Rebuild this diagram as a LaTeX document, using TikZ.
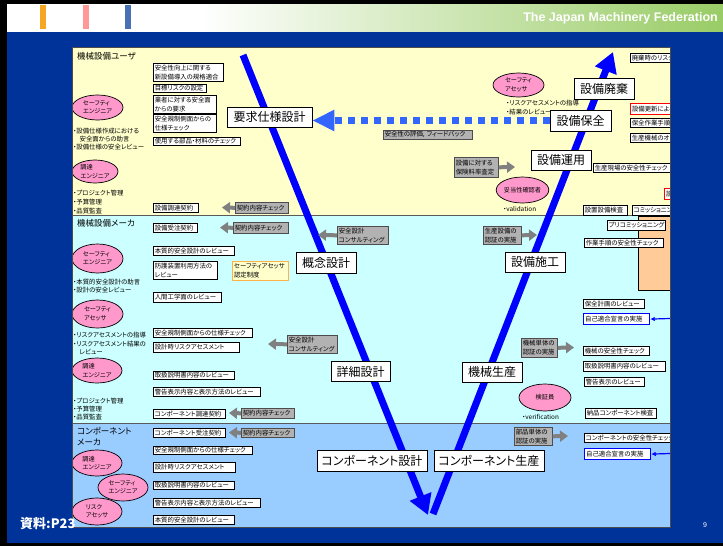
\documentclass[tikz,border=0pt]{standalone}
\usepackage{fontspec}
\setmainfont{Noto Sans CJK JP}[RawFeature=+palt]
\newfontfamily\hdrfont{Liberation Sans}
\usetikzlibrary{arrows.meta,shapes.geometric}

\definecolor{slideblue}{HTML}{003399}
\definecolor{hdrgreen}{HTML}{99CC66}
\definecolor{barorange}{HTML}{F5A623}
\definecolor{barpink}{HTML}{FF9999}
\definecolor{barblue}{HTML}{4A6FB5}
\definecolor{bandA}{HTML}{FFFFCC}
\definecolor{bandB}{HTML}{CCFFFF}
\definecolor{bandC}{HTML}{99CCFF}
\definecolor{vblue}{HTML}{0000FF}
\definecolor{fbblue}{HTML}{3366FF}
\definecolor{pinkfill}{HTML}{FF99CC}
\definecolor{graylab}{HTML}{B2B2B2}
\definecolor{grayarr}{HTML}{808080}
\definecolor{certfill}{HTML}{FFFFCC}
\definecolor{certedge}{HTML}{FFB347}
\definecolor{comfill}{HTML}{FFCC99}

\tikzset{
  sbox/.style={draw=black,fill=white,line width=0.6pt,inner xsep=1.5pt,inner ysep=0pt,
    align=left,font=\fontsize{6.4}{8.7}\selectfont},
  redbox/.style={sbox,draw=red,line width=1pt},
  bluebox/.style={sbox,draw=blue,line width=1.2pt},
  certbox/.style={sbox,draw=certedge,fill=certfill,line width=1pt},
  glab/.style={sbox,draw=gray!60!black,fill=graylab},
  stage/.style={draw=black,fill=white,line width=0.8pt,inner sep=1pt,
    font=\fontsize{12}{14}\selectfont},
  pinkell/.style={ellipse,draw=black,fill=pinkfill,line width=0.7pt,inner sep=0pt,
    align=left,font=\fontsize{6.2}{8.4}\selectfont},
  note/.style={anchor=west,inner sep=0pt,font=\fontsize{6.4}{7.5}\selectfont},
  bandtitle/.style={anchor=north west,inner sep=0pt,align=left,font=\fontsize{8.5}{11}\selectfont},
  sepline/.style={draw=gray!70!black,line width=1pt},
  garrow/.style={draw=grayarr,line width=4pt,-{Triangle[length=8pt,width=11pt]}},
  blarrow/.style={draw=blue,line width=1.2pt,-{Latex[length=4.5pt,width=4.5pt]}},
  vline/.style={draw=vblue,line width=7pt,-{Triangle[length=20pt,width=22pt]}},
  fbarrow/.style={draw=fbblue,line width=7pt,dash pattern=on 7pt off 6pt,
    -{Triangle[length=22pt,width=20pt]}},
}

% box from its corners: [style]{x1}{y1}{x2}{y2}{name}{text}
\newcommand\putbox[7][sbox]{%
  \pgfmathsetmacro\pbTw{#4-#2-3}%
  \pgfmathsetmacro\pbH{#5-#3}%
  \node[#1,anchor=north west,text width=\pbTw pt,minimum height=\pbH pt] (#6) at (#2,#3) {#7};}
% stage label: {cx}{cy}{w}{h}{name}{text}
\newcommand\putstage[6]{%
  \node[stage,minimum width=#3pt,minimum height=#4pt] (#5) at (#1,#2) {#6};}
% pink ellipse: {cx}{cy}{w}{h}{name}{text}
\newcommand\putell[6]{%
  \node[pinkell,minimum width=#3pt,minimum height=#4pt] (#5) at (#1,#2) {#6};}

\begin{document}
\begin{tikzpicture}[x=1pt,y=-1pt]
\useasboundingbox (0,0) rectangle (723,546);

% slide frame, header and background
\fill[black] (0,0) rectangle (723,546);
\fill[white] (7,4) rectangle (200,32);
\shade[left color=white,right color=hdrgreen] (199,4) rectangle (723,32);
\fill[slideblue] (7,32) rectangle (723,543);
\fill[barorange] (40,5) rectangle (46,29);
\fill[barpink] (83,5) rectangle (89,29);
\fill[barblue] (125,5) rectangle (131,29);
\node[anchor=east,text=white,inner sep=0pt,font=\hdrfont\bfseries\fontsize{12.5}{14}\selectfont]
  (hdr) at (718,18) {The Japan Machinery Federation};

\begin{scope}
\clip (72,47) rectangle (670,527);
% three bands
\fill[bandA] (72,47) rectangle (670,215);
\fill[bandB] (72,215) rectangle (670,423);
\fill[bandC] (72,423) rectangle (670,527);
\draw[sepline] (72,215) -- (670,215);
\draw[sepline] (72,423) -- (670,423);

% band titles
\node[bandtitle] (t1) at (77,52) {機械設備ユーザ};
\node[bandtitle] (t2) at (77,219) {機械設備メーカ};
\node[bandtitle] (t3) at (77,427) {コンポーネント\\メーカ};

% the V of the life cycle
\coordinate (vtop) at (243,55);
\coordinate (vbot) at (428,515);
\coordinate (rbot) at (433,514);
\coordinate (rtop) at (613,52);
\draw[vline] (vtop) -- (vbot);
\draw[vline] (rbot) -- (rtop);

% stage labels
\putstage{269.5}{117}{85}{20}{req}{要求仕様設計}
\putstage{604}{88.5}{60}{21}{haiki}{設備廃棄}
\putstage{580.5}{120.5}{61}{21}{hozen}{設備保全}
\putstage{561}{160}{60}{20}{unyo}{設備運用}
\putstage{326}{262.5}{60}{21}{gainen}{概念設計}
\putstage{535}{262}{60}{20}{sekou}{設備施工}
\putstage{360.5}{371.5}{59}{20}{shosai}{詳細設計}
\putstage{492}{372}{60}{20}{seisan}{機械生産}
\putstage{372}{460.5}{110}{21}{compD}{コンポーネント設計}
\putstage{489}{460.5}{110}{21}{compP}{コンポーネント生産}

% feedback from maintenance to requirement design
\draw[fbarrow] (hozen.west) -- (req.east |- hozen.west);
\putbox[glab]{383}{130}{472}{139}{fb}{安全性の評価, フィードバック}

% ---- machine user band ----
\putell{97.5}{107.5}{51}{25}{e1}{セーフティ\\エンジニア}
\node[note] (n1) at (73,131) {・設備仕様作成における};
\node[note] (n2) at (73,139) {　安全面からの助言};
\node[note] (n3) at (73,147) {・設備仕様の安全レビュー};
\putell{95}{171.5}{46}{23}{e2}{調達\\エンジニア}
\node[note] (n4) at (73,193) {・プロジェクト管理};
\node[note] (n5) at (73,202) {・予算管理};
\node[note] (n6) at (73,211) {・品質監査};

\putbox{153}{63}{223}{81}{u1}{安全性向上に関する\\新設備導入の規格適合}
\putbox{153}{84}{206}{92}{u2}{目標リスクの設定}
\putbox{153}{95}{216}{113}{u3}{業者に対する安全面\\からの要求}
\putbox{153}{114}{216}{132}{u4}{安全規制側面からの\\仕様チェック}
\putbox{153}{137}{240}{145}{u5}{使用する部品・材料のチェック}
\putbox{153}{203}{198}{212}{u6}{設備調達契約}
\putbox[glab]{235}{202}{288}{213}{g1}{契約内容チェック}
\coordinate (g1t) at (222,207.5);
\draw[garrow] (g1.west) -- (g1t);

\putell{518.5}{85}{51}{24}{e3}{セーフティ\\アセッサ}
\node[note] (n7) at (506,103) {・リスクアセスメントの指導};
\node[note] (n8) at (506,112) {・結果のレビュー};
\putbox[glab]{454}{157}{498}{177}{ins}{設備に対する\\保険料率査定}
\coordinate (inst) at (515,167);
\draw[garrow] (ins.east) -- (inst);
\putell{522.5}{190}{51}{26}{e4}{妥当性確認者}
\node[note] (n9) at (503,209) {・validation};

\putbox{630}{53}{700}{62}{r1}{廃棄時のリスクアセスメント}
\putbox[redbox]{630}{103}{700}{114}{r2}{設備更新によるリスク評価}
\putbox{630}{118}{700}{127}{r3}{保全作業手順の安全性チェック}
\putbox{630}{133}{700}{142}{r4}{生産機械のオーバーホール}
\putbox{593}{163}{700}{172}{r5}{生産現場の安全性チェック}
\putbox[redbox]{664}{188}{720}{199}{r6}{設備}
\putbox{583}{205}{627}{215}{r7}{設置設備検査}
\putbox{632}{205}{700}{215}{r8}{コミッショニング}

% ---- machine maker band ----
\fill[comfill,draw=black,line width=0.7pt] (638,216) rectangle (680,290);
\putbox{153}{223}{197}{232}{m1}{設備受注契約}
\putbox[glab]{233}{222}{288}{233}{g2}{契約内容チェック}
\coordinate (g2t) at (220,227.5);
\draw[garrow] (g2.west) -- (g2t);

\putell{97.5}{258.5}{51}{29}{e5}{セーフティ\\エンジニア}
\node[note] (n10) at (73,282) {・本質的安全設計の助言};
\node[note] (n11) at (73,290) {・設計の安全レビュー};
\putell{97.5}{314}{51}{28}{e6}{セーフティ\\アセッサ}
\node[note] (n12) at (73,335) {・リスクアセスメントの指導};
\node[note] (n13) at (73,344) {・リスクアセスメント結果の};
\node[note] (n14) at (73,352) {　レビュー};
\putell{97}{370.5}{50}{25}{e7}{調達\\エンジニア}
\node[note] (n15) at (73,401) {・プロジェクト管理};
\node[note] (n16) at (73,409) {・予算管理};
\node[note] (n17) at (73,417) {・品質監査};

\putbox{153}{246}{234}{255}{m2}{本質的安全設計のレビュー}
\putbox{153}{261}{217}{279}{m3}{防護装置利用方法の\\レビュー}
\putbox[certbox]{232}{261}{288}{280}{cert}{セーフティアセッサ\\認定制度}
\putbox{153}{292}{221}{302}{m4}{人間工学面のレビュー}
\putbox{153}{328}{252}{337}{m5}{安全規制側面からの仕様チェック}
\putbox{153}{342}{239}{352}{m6}{設計時リスクアセスメント}
\putbox{153}{371}{234}{379}{m7}{取扱説明書内容のレビュー}
\putbox{153}{387}{260}{396}{m8}{警告表示内容と表示方法のレビュー}
\putbox{153}{409}{225}{418}{m9}{コンポーネント調達契約}
\putbox[glab]{241}{408}{294}{418}{g3}{契約内容チェック}
\coordinate (g3t) at (229,413);
\draw[garrow] (g3.west) -- (g3t);

\putbox[glab]{337}{226}{388}{244}{cs1}{安全設計\\コンサルティング}
\coordinate (cs1t) at (318,235);
\draw[garrow] (cs1.west) -- (cs1t);
\putbox[glab]{287}{335}{337}{353}{cs2}{安全設計\\コンサルティング}
\coordinate (cs2t) at (268,344);
\draw[garrow] (cs2.west) -- (cs2t);

\putbox[glab]{483}{226}{521}{244}{pc}{生産設備の\\認証の実施}
\coordinate (pct) at (537,235);
\draw[garrow] (pc.east) -- (pct);
\putbox[glab]{521}{338}{557}{357}{mc}{機械単体の\\認証の実施}
\coordinate (mct) at (574,347.5);
\draw[garrow] (mc.east) -- (mct);

\putbox{607}{220}{665}{230}{r9}{プリコミッショニング}
\putbox{584}{238}{663}{247}{r10}{作業手順の安全性チェック}
\putbox{583}{299}{644}{308}{r11}{保全計画のレビュー}
\putbox[bluebox]{583}{313}{649}{324}{r12}{自己適合宣言の実施}
\coordinate (r12s) at (670,318.5);
\draw[blarrow] (r12s) -- (r12.east);
\putbox{583}{346}{649}{355}{r13}{機械の安全性チェック}
\putbox{583}{361}{665}{371}{r14}{取扱説明書内容のレビュー}
\putbox{584}{377}{644}{386}{r15}{警告表示のレビュー}
\putell{545}{397.5}{52}{27}{e8}{検証員}
\node[note] (n18) at (522,417) {・verification};
\putbox{585}{408}{656}{418}{r16}{納品コンポーネント検査}

% ---- component maker band ----
\putbox{153}{428}{225}{437}{c1}{コンポーネント受注契約}
\putbox[glab]{241}{428}{294}{437}{g4}{契約内容チェック}
\coordinate (g4t) at (229,432.5);
\draw[garrow] (g4.west) -- (g4t);
\putbox{153}{446}{252}{454}{c2}{安全規制側面からの仕様チェック}
\putbox{153}{462}{235}{472}{c3}{設計時リスクアセスメント}
\putbox{153}{481}{234}{489}{c4}{取扱説明書内容のレビュー}
\putbox{153}{498}{260}{507}{c5}{警告表示内容と表示方法のレビュー}
\putbox{153}{515}{234}{524}{c6}{本質的安全設計のレビュー}

\putell{97}{463}{50}{26}{e9}{調達\\エンジニア}
\putell{123}{487.5}{50}{27}{e10}{セーフティ\\エンジニア}
\putell{97}{511.5}{50}{27}{e11}{リスク\\アセッサ}

\putbox[glab]{514}{427}{552}{445}{pt}{部品単体の\\認証の実施}
\coordinate (ptt) at (568,436);
\draw[garrow] (pt.east) -- (ptt);
\putbox{584}{433}{700}{442}{r17}{コンポーネントの安全性チェック}
\putbox[bluebox]{584}{448}{650}{459}{r18}{自己適合宣言の実施}
\coordinate (r18s) at (670,453.5);
\draw[blarrow] (r18s) -- (r18.east);
\end{scope}
\draw[black!70,line width=0.8pt] (72,47) rectangle (670,527);

% footer texts
\node[anchor=west,text=white,inner sep=0pt,font=\bfseries\fontsize{13}{15}\selectfont]
  (src) at (20,524) {資料:P23};
\node[text=white,inner sep=0pt,font=\hdrfont\fontsize{7}{8}\selectfont] (pg) at (705,525) {9};
\end{tikzpicture}
\end{document}
